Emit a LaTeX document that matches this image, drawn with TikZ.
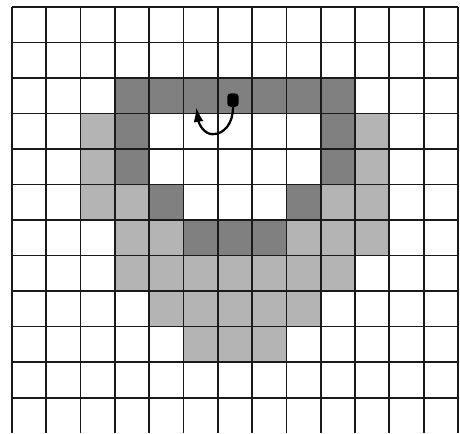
\documentclass[tikz,border=0pt]{standalone}
\usepackage{xcolor}
\usepackage{tikz}
\usetikzlibrary{arrows.meta}
\definecolor{CellDark}{HTML}{808080}
\definecolor{CellLight}{HTML}{B4B4B4}
\definecolor{GridInk}{HTML}{1A1A1A}

\begin{document}
\begin{tikzpicture}[x=25.725pt, y=-26.625pt,
    celldark/.style={fill=CellDark},
    celllight/.style={fill=CellLight},
    gridline/.style={draw=GridInk, line width=1.3pt}]
  \useasboundingbox (-0.35,-0.2) rectangle (13.06,12);
  % dark ring
  \foreach \c/\r in {3/2,4/2,5/2,6/2,7/2,8/2,9/2,3/3,9/3,3/4,9/4,4/5,8/5,5/6,6/6,7/6}
    \fill[celldark] (\c,\r) rectangle ++(1,1);
  % light cells
  \foreach \c/\r in {2/3,10/3,2/4,10/4,2/5,3/5,9/5,10/5,3/6,4/6,8/6,9/6,10/6,
      3/7,4/7,5/7,6/7,7/7,8/7,9/7,4/8,5/8,6/8,7/8,8/8,5/9,6/9,7/9}
    \fill[celllight] (\c,\r) rectangle ++(1,1);
  % grid
  \foreach \c in {0,...,13}
    \draw[gridline] (\c,0) -- (\c,12);
  \foreach \r in {0,...,11}
    \draw[gridline] (0,\r) -- (13,\r);
  % turn arrow
  \node[fill=black, rounded corners=2.5pt, minimum width=8.5pt, minimum height=10pt,
    inner sep=0pt] (dot) at (6.44,2.62) {};
  \coordinate (turn) at (5.85,3.58);
  \coordinate (tip) at (5.37,2.82);
  \draw[line width=1.7pt, -{Latex[length=11pt,width=7.5pt]}]
    (dot.south) .. controls (6.45,3.25) and (6.2,3.58) .. (turn)
    .. controls (5.6,3.58) and (5.45,3.3) .. (tip);
\end{tikzpicture}
\end{document}
